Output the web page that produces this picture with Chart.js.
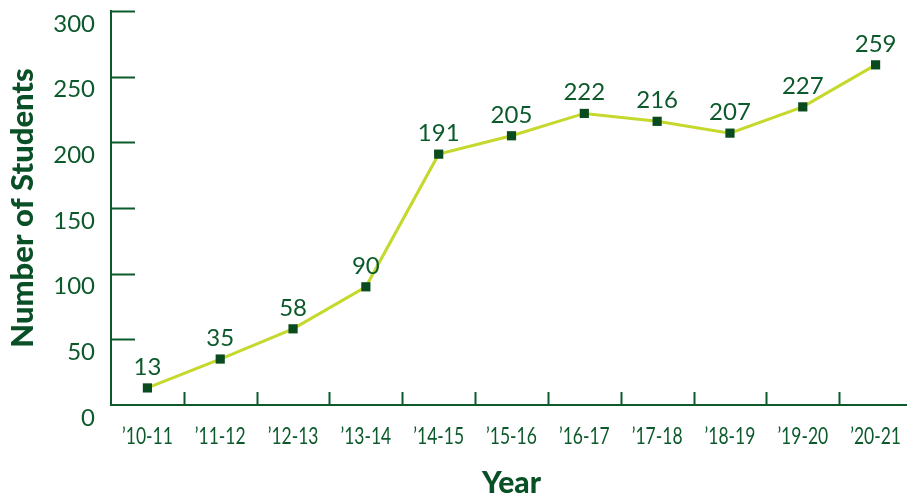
<!DOCTYPE html>
<html><head><meta charset="utf-8">
<script src="https://cdn.jsdelivr.net/npm/chart.js@4/dist/chart.umd.min.js"></script>
<style>html,body{margin:0;padding:0;background:#fff;overflow:hidden}canvas{display:block}</style>
</head><body>
<canvas id="c" width="912" height="497" style="width:912px;height:497px"></canvas>
<script>
const years = ["\u201910-11","\u201911-12","\u201912-13","\u201913-14","\u201914-15","\u201915-16","\u201916-17","\u201917-18","\u201918-19","\u201919-20","\u201920-21"];
const students = [13,35,58,90,191,205,222,216,207,227,259];
const yTicks = [0,50,100,150,200,250,300];
const xTitle = 'Year';
const yTitle = 'Number of Students';

const GREEN = '#0c5a2c';
const DARK = '#0a5027';
const MARK = '#0a4a1f';
const LINE = '#c5d82c';
const FONT = 'Lato, "Open Sans", sans-serif';

const innerTicks = {
  id:'innerTicks',
  afterDraw(chart){
    const ctx = chart.ctx, x = chart.scales.x, y = chart.scales.y;
    ctx.save();
    ctx.strokeStyle = GREEN; ctx.lineWidth = 2;
    ctx.beginPath();
    yTicks.forEach(v=>{ if(v===0) return; const py = Math.round(y.getPixelForValue(v))+0.5; ctx.moveTo(y.right, py); ctx.lineTo(y.right+24, py); });
    for(let i=1;i<years.length;i++){
      const px = Math.round((x.getPixelForValue(i-1)+x.getPixelForValue(i))/2)+0.5;
      ctx.moveTo(px, x.top); ctx.lineTo(px, x.top-13);
    }
    ctx.stroke();
    // x category labels (condensed)
    ctx.fillStyle = GREEN; ctx.font = '23px ' + FONT; ctx.textAlign='center'; ctx.textBaseline='alphabetic';
    years.forEach((lab,i)=>{
      const px = x.getPixelForValue(i);
      ctx.save(); ctx.translate(px, x.top+39); ctx.scale(0.76,1); ctx.fillText(lab, 0, 0); ctx.restore();
    });
    // x title
    ctx.fillStyle = DARK; ctx.font = '900 30px ' + FONT;
    ctx.fillText(xTitle, (x.left + x.right)/2, 493);
    // data labels
    ctx.fillStyle = GREEN; ctx.font = '24px ' + FONT;
    const meta = chart.getDatasetMeta(0);
    meta.data.forEach((pt,i)=>{ ctx.fillText(String(students[i]), pt.x, pt.y-13); });
    ctx.restore();
  }
};

new Chart(document.getElementById('c'), {
  type:'line',
  data:{labels:years, datasets:[{data:students, borderColor:LINE, borderWidth:3, pointStyle:'rect', pointRadius:6.5, pointBackgroundColor:MARK, pointBorderWidth:0, tension:0, clip:false}]},
  options:{
    responsive:false, animation:false,
    layout:{autoPadding:false, padding:{top:11,left:4,right:0,bottom:0}},
    plugins:{legend:{display:false}, tooltip:{enabled:false}},
    scales:{
      x:{
        offset:true,
        grid:{display:false, drawTicks:false},
        border:{display:true, color:GREEN, width:2},
        ticks:{display:false},
        title:{display:false},
        afterFit(s){ s.height = 92; s.paddingLeft = 0; s.paddingRight = 0; }
      },
      y:{
        min:0, max:300,
        afterBuildTicks(s){ s.ticks = yTicks.map(v=>({value:v})); },
        grid:{display:false, drawTicks:false},
        border:{display:true, color:GREEN, width:2},
        ticks:{color:GREEN, font:{family:FONT, size:24}, padding:16, labelOffset:13},
        title:{display:true, text:yTitle, color:DARK, font:{family:FONT, size:31, weight:'900'}, padding:{top:0,bottom:4}},
        afterFit(s){ s.width = 107; s.paddingTop = 0; s.paddingBottom = 0; }
      }
    }
  },
  plugins:[innerTicks]
});
</script>
</body></html>
